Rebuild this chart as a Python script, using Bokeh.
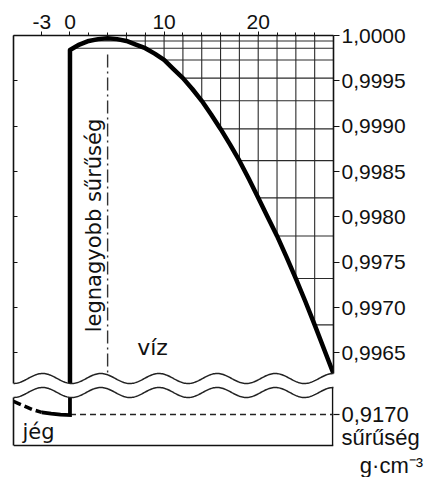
import numpy as np
from bokeh.plotting import figure
from bokeh.models import LinearAxis, FixedTicker, CustomJSTickFormatter, Label, Range1d
from bokeh.layouts import column
from bokeh.embed import file_html
from bokeh.resources import INLINE

# ---------------- data ----------------
water_temp = [0, 1, 2, 3, 4, 5, 6, 7, 8, 9, 10, 11, 12, 13, 14, 15, 16, 17, 18, 19,
              20, 21, 22, 23, 24, 25, 26, 27, 28]
water_density = [0.99984, 0.99990, 0.99994, 0.99996, 0.99997, 0.99996, 0.99994, 0.99990,
                 0.99986, 0.99980, 0.99973, 0.99963, 0.99953, 0.99941, 0.99928, 0.99913,
                 0.99897, 0.99880, 0.99862, 0.99842, 0.99821, 0.99800, 0.99779, 0.99756,
                 0.99732, 0.99707, 0.99681, 0.99654, 0.99627]
ice_temp = [-6, -5, -4, -3, -2, -1, 0]
ice_density = [0.91784, 0.91758, 0.91732, 0.91713, 0.91705, 0.91699, 0.91696]
x_ticks = [-3, 0, 10, 20]
x_minor_ticks = [2, 4, 6, 8, 10, 12, 14, 16, 18, 20, 22, 24, 26]
water_ticks = [0.9965, 0.9970, 0.9975, 0.9980, 0.9985, 0.9990, 0.9995, 1.0000]
ice_ticks = [0.9170]
grid_temps = [6, 8, 10, 12, 14, 16, 18, 20, 22, 24, 26]
max_density_temp = 4
unit_texts = ["sűrűség", "\u00a0\u00a0\u00a0g·cm⁻³"]

# ---------------- layout constants ----------------
W = 429
LEFT_B, RIGHT_B, TOP_B = 13, 96, 35
H1 = 386
H2 = 477 - H1
XR = (-6.0, 28.0)
YW = (0.99613, 1.0000)
FW = W - LEFT_B - RIGHT_B
FH1 = H1 - TOP_B
FH2 = H2
PX_W = (YW[1] - YW[0]) / FH1          # density per pixel, upper panel
PX_I = 0.0038 / 59                     # density per pixel, lower panel
YI = (0.9188 - FH2 * PX_I, 0.9188)

def px2x(px):
    return XR[0] + (np.asarray(px) - LEFT_B) / FW * (XR[1] - XR[0])

def py2w(py):
    return YW[1] - (np.asarray(py) - TOP_B) * PX_W

def py2i(py):
    return YI[1] - (np.asarray(py) - H1) * PX_I

# break (wavy) lines, decorative, in screen pixels
wx = np.linspace(LEFT_B, LEFT_B + FW, 300)
period = FW / 5.5
wave1 = 378 + 5 * np.cos(2 * np.pi * (wx - LEFT_B) / period)
wave2 = wave1 + 14

comma_fmt = CustomJSTickFormatter(code="return tick.toFixed(4).replace('.', ',');")
INK = "#111111"
NUMFONT = "Liberation Sans"
WORDFONT = "DejaVu Sans"
NUMSIZE = "21px"

# ---------------- upper panel (water) ----------------
p1 = figure(width=W, height=H1, x_range=Range1d(*XR), y_range=Range1d(*YW),
            x_axis_location="above", y_axis_location="right",
            output_backend="svg", toolbar_location=None,
            min_border_left=LEFT_B, min_border_right=RIGHT_B,
            min_border_top=TOP_B, min_border_bottom=0)
p1.outline_line_color = None
p1.xgrid.visible = False
p1.ygrid.visible = False

xa = p1.xaxis[0]
xa.ticker = FixedTicker(ticks=x_ticks, minor_ticks=x_minor_ticks)
xa.formatter = CustomJSTickFormatter(code="return tick.toFixed(0);")
xa.major_label_text_font = NUMFONT
xa.major_label_text_font_size = NUMSIZE
xa.major_label_text_color = INK
xa.major_tick_out = 4
xa.major_tick_in = 0
xa.minor_tick_out = 3
xa.minor_tick_in = 0
xa.major_label_standoff = 3
xa.axis_line_width = 1.6
xa.axis_line_color = INK
xa.major_tick_line_color = INK
xa.minor_tick_line_color = INK

ya = p1.yaxis[0]
ya.ticker = FixedTicker(ticks=water_ticks)
ya.formatter = comma_fmt
ya.bounds = (float(py2w(373)), YW[1])
ya.major_label_text_font = NUMFONT
ya.major_label_text_font_size = NUMSIZE
ya.major_label_text_color = INK
ya.major_tick_out = 6
ya.major_tick_in = 0
ya.minor_tick_out = 0
ya.minor_tick_in = 0
ya.major_label_standoff = 2
ya.axis_line_width = 1.6
ya.axis_line_color = INK
ya.major_tick_line_color = INK

# left frame line: inward ticks only (minor ticks, so no labels are drawn)
la = LinearAxis(ticker=FixedTicker(ticks=[], minor_ticks=water_ticks),
                bounds=(float(py2w(383)), YW[1]),
                major_tick_in=0, major_tick_out=0, minor_tick_in=4, minor_tick_out=0,
                major_label_text_font_size="0px", major_label_standoff=0,
                axis_line_width=1.6, axis_line_color=INK, minor_tick_line_color=INK)
p1.add_layout(la, "left")

# grid built from the curve at every second degree
dens = dict(zip(water_temp, water_density))
gd = [dens[t] for t in grid_temps]
h_start = []
for t, d in zip(grid_temps, gd):
    if d >= water_density[0]:
        h_start.append(float(np.interp(d, water_density[:5], water_temp[:5])))
    else:
        h_start.append(t)
p1.segment(x0=grid_temps, y0=gd, x1=grid_temps, y1=[YW[1]] * len(gd),
           line_color="#2a2a2a", line_width=1.1)
p1.segment(x0=h_start, y0=gd, x1=[XR[1]] * len(gd), y1=gd,
           line_color="#2a2a2a", line_width=1.1)

# temperature of maximum density
p1.line([max_density_temp, max_density_temp], [dens[max_density_temp] - 0.00018, YW[0]],
        line_color="#333333", line_width=1.4, line_dash="13 4 2 4")

# water curve (with the melting step at 0 °C)
p1.line([0] + water_temp, [ice_density[-1]] + water_density,
        line_color="black", line_width=4.5, line_join="round")

# break: white band + wavy line
p1.patch(x=list(px2x(wx)) + [XR[1] + 1, XR[0] - 1],
         y=list(py2w(wave1)) + [YW[0] - 0.001, YW[0] - 0.001],
         fill_color="white", line_color=None, level="overlay")
p1.line(px2x(wx), py2w(wave1), line_color="#222222", line_width=1.5, level="overlay")

p1.add_layout(Label(x=float(px2x(93)), y=float(py2w(225)), text="legnagyobb sűrűség",
                    angle=np.pi / 2, text_align="center", text_baseline="middle",
                    text_font=WORDFONT, text_font_size="21px", text_color=INK))
p1.add_layout(Label(x=float(px2x(152)), y=float(py2w(347)), text="víz",
                    text_align="center", text_baseline="middle",
                    text_font=WORDFONT, text_font_size="22px", text_color=INK))

# ---------------- lower panel (ice) ----------------
p2 = figure(width=W, height=H2, x_range=p1.x_range, y_range=Range1d(*YI),
            x_axis_location=None, y_axis_location="right",
            output_backend="svg", toolbar_location=None,
            min_border_left=LEFT_B, min_border_right=RIGHT_B,
            min_border_top=0, min_border_bottom=0)
p2.outline_line_color = None
p2.xgrid.visible = False
p2.ygrid.visible = False

y_bottom = float(py2i(445))
unit_pos = [float(py2i(437)), float(py2i(465))]

# right side: tick mark at 0,9170 (minor tick) + labels for value and unit
ra = p2.yaxis[0]
ra.ticker = FixedTicker(ticks=ice_ticks + unit_pos, minor_ticks=ice_ticks)
ra.formatter = CustomJSTickFormatter(
    args=dict(vals=ice_ticks + unit_pos,
              labs=[f"{v:.4f}".replace(".", ",") for v in ice_ticks] + unit_texts),
    code="""
let best = 0;
for (let i = 0; i < vals.length; i++) {
  if (Math.abs(vals[i] - tick) < Math.abs(vals[best] - tick)) best = i;
}
return labs[best];
""")
ra.major_label_text_font = NUMFONT
ra.major_label_text_font_size = "22px"
ra.major_label_text_color = INK
ra.major_tick_out = 6
ra.major_tick_in = 0
ra.major_tick_line_color = None
ra.minor_tick_out = 6
ra.minor_tick_in = 0
ra.minor_tick_line_color = INK
ra.minor_tick_line_width = 1.2
ra.major_label_standoff = 2
ra.axis_line_color = None

# left frame line of the lower panel
la2 = LinearAxis(ticker=FixedTicker(ticks=[]), bounds=(y_bottom, float(py2i(397))),
                 major_tick_in=0, major_tick_out=0, minor_tick_in=0, minor_tick_out=0,
                 major_label_text_font_size="0px", major_label_standoff=0,
                 axis_line_width=1.6, axis_line_color=INK)
p2.add_layout(la2, "left")

# bottom and right frame lines of the lower panel
x_edge = XR[1] - 0.8 * (XR[1] - XR[0]) / FW
p2.line([XR[0], XR[1]], [y_bottom, y_bottom], line_color=INK, line_width=1.6)
p2.line([x_edge, x_edge], [y_bottom, float(py2i(387))], line_color=INK, line_width=1.6)

p2.line([0, XR[1]], [ice_ticks[0], ice_ticks[0]], line_color="#222222",
        line_width=1.4, line_dash="6 4")
p2.line(ice_temp[:4], ice_density[:4], line_color="black", line_width=3.5,
        line_dash="8 4")
p2.line(ice_temp[3:] + [0], ice_density[3:] + [water_density[0]],
        line_color="black", line_width=3.8, line_join="miter")

p2.patch(x=list(px2x(wx)) + [XR[1] + 1, XR[0] - 1],
         y=list(py2i(wave2)) + [YI[1] + 0.01, YI[1] + 0.01],
         fill_color="white", line_color=None, level="overlay")
p2.line(px2x(wx), py2i(wave2), line_color="#222222", line_width=1.5, level="overlay")

p2.add_layout(Label(x=float(px2x(38)), y=float(py2i(431)), text="jég",
                    text_align="center", text_baseline="middle",
                    text_font=WORDFONT, text_font_size="21px", text_color=INK))

layout = column(p1, p2, spacing=0)
open("out.html", "w").write(file_html(layout, INLINE))
